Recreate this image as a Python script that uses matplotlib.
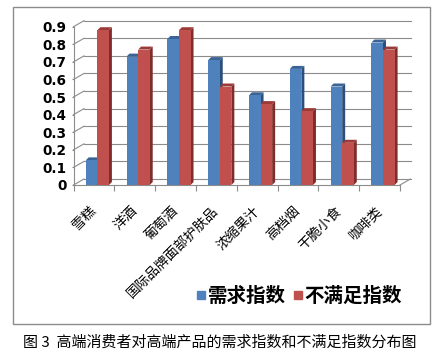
import numpy as np
import matplotlib
matplotlib.use('Agg')
import matplotlib.pyplot as plt
from matplotlib.patches import Polygon, Rectangle
from matplotlib.lines import Line2D

plt.rcParams['font.family'] = ['Noto Sans CJK SC', 'DejaVu Sans']

# data
categories = ['雪糕', '洋酒', '葡萄酒', '国际品牌面部护肤品', '浓缩果汁', '高档烟', '干脆小食', '咖啡类']
demand = [0.14, 0.73, 0.83, 0.71, 0.51, 0.66, 0.56, 0.81]
unmet = [0.88, 0.77, 0.88, 0.56, 0.46, 0.42, 0.24, 0.77]
series_names = ['需求指数', '不满足指数']
yticks = [0, 0.1, 0.2, 0.3, 0.4, 0.5, 0.6, 0.7, 0.8, 0.9]
ytick_labels = ['0', '0.1', '0.2', '0.3', '0.4', '0.5', '0.6', '0.7', '0.8', '0.9']
caption = '图 3  高端消费者对高端产品的需求指数和不满足指数分布图'

blue, blue_top, blue_side = '#4F81BD', '#3A6396', '#2B4F7C'
red, red_top, red_side = '#C0504D', '#9C3A37', '#7F2C2A'
grid_c = '#8c8c8c'

W, H = 442, 364
fig = plt.figure(figsize=(W / 100, H / 100), dpi=100)
ax = fig.add_axes([73.5 / W, 179 / H, 326.5 / W, 158.3 / H])
ax.set_xlim(-0.5, 7.5)
ax.set_ylim(0, 0.9)

# data units per pixel
px_x = 8 / 326.5
px_y = 0.9 / 158.3
wdx, wdy = 10.5 * px_x, 6 * px_y   # wall depth
bdx, bdy = 3 * px_x, 3 * px_y      # bar depth

# back wall + left wall gridlines
for v in yticks:
    ax.add_line(Line2D([-0.5 + wdx, 7.5 + wdx], [v + wdy, v + wdy], color=grid_c, lw=0.8, clip_on=False, zorder=1))
    ax.add_line(Line2D([-0.5, -0.5 + wdx], [v, v + wdy], color=grid_c, lw=0.8, clip_on=False, zorder=1))
# floor right edge
ax.add_line(Line2D([7.5, 7.5 + wdx], [0, wdy], color=grid_c, lw=0.8, clip_on=False, zorder=1))

x = np.arange(len(categories))
bw = 11.6 * px_x
left_b = x - 0.5 + 12.2 * px_x
left_r = left_b + bw


def bar3d(lefts, vals, c_front, c_top, c_side, z):
    for l, v in zip(lefts, vals):
        r = l + bw
        ax.add_patch(Polygon([(r, 0), (r + bdx, bdy), (r + bdx, v + bdy), (r, v)],
                             closed=True, fc=c_side, ec='none', zorder=z, clip_on=False))
        ax.add_patch(Polygon([(l, v), (r, v), (r + bdx, v + bdy), (l + bdx, v + bdy)],
                             closed=True, fc=c_top, ec='none', zorder=z, clip_on=False))
    ax.bar(lefts, vals, width=bw, align='edge', color=c_front, zorder=z + 0.5)


bar3d(left_b, demand, blue, blue_top, blue_side, 2)
bar3d(left_r, unmet, red, red_top, red_side, 4)

for s in ['top', 'right']:
    ax.spines[s].set_visible(False)
for s in ['left', 'bottom']:
    ax.spines[s].set_color(grid_c)
    ax.spines[s].set_linewidth(0.8)

ax.set_yticks(yticks)
ax.set_yticklabels(ytick_labels, family='DejaVu Sans', weight='bold', fontsize=9.8)
ax.tick_params(axis='y', length=1.8, color=grid_c, pad=3)

ax.set_xticks(np.arange(-0.5, 8, 1))
ax.set_xticklabels([])
ax.tick_params(axis='x', which='major', length=4.3, color=grid_c)
ax.set_xticks(x, minor=True)
ax.set_xticklabels(categories, minor=True, rotation=45, ha='right', va='center',
                   rotation_mode='anchor', fontsize=9.8)
ax.tick_params(axis='x', which='minor', length=0, pad=17)

handles = [Line2D([], [], marker='s', ls='none', color=blue, markersize=6),
           Line2D([], [], marker='s', ls='none', color=red, markersize=6)]
fig.legend(handles, series_names, ncol=2, loc='center', bbox_to_anchor=(298.5 / W, 68 / H),
           frameon=False, prop=dict(family='Noto Sans CJK SC', weight='bold', size=14),
           handletextpad=0.05, columnspacing=0.3, handlelength=0.6, borderpad=0)

fig.patches.append(Rectangle((13 / W, 40 / H), 417 / W, 317 / H, transform=fig.transFigure,
                             fill=False, ec=grid_c, lw=1))
fig.text(220 / W, 21 / H, caption, ha='center', va='center', fontsize=10.8)

fig.savefig('out.png', dpi=100)
